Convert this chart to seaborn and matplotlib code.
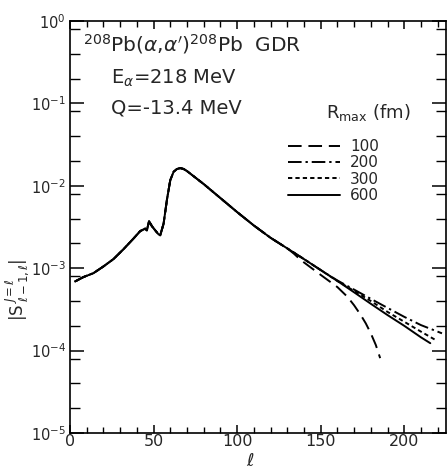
import numpy as np
import pandas as pd
import matplotlib
matplotlib.use("Agg")
import matplotlib.pyplot as plt
import seaborn as sns
from matplotlib.ticker import LogLocator, MultipleLocator, NullFormatter

# common part of the curve (all R_max identical up to l ~ 130)
l_common = [3, 8, 14, 20, 26, 32, 38, 42, 45, 46, 47.3, 49, 51, 53, 54, 56, 58, 60,
            62, 64, 66, 68, 70, 80, 90, 100, 110, 120, 130]
s_common = [6.9e-4, 7.8e-4, 8.7e-4, 1.05e-3, 1.29e-3, 1.70e-3, 2.29e-3, 2.82e-3,
            3.02e-3, 2.88e-3, 3.72e-3, 3.24e-3, 2.88e-3, 2.57e-3, 2.51e-3, 3.47e-3,
            6.76e-3, 1.17e-2, 1.48e-2, 1.60e-2, 1.64e-2, 1.60e-2, 1.51e-2, 1.05e-2,
            7.1e-3, 4.8e-3, 3.3e-3, 2.34e-3, 1.74e-3]

# tails for each R_max
l_600 = [140, 150, 160, 170, 180, 190, 200, 210, 215.6]
s_600 = [1.29e-3, 9.5e-4, 7.0e-4, 5.1e-4, 3.7e-4, 2.7e-4, 2.0e-4, 1.45e-4, 1.23e-4]
l_300 = [140, 150, 160, 170, 180, 190, 200, 210, 218.6]
s_300 = [1.29e-3, 9.5e-4, 7.0e-4, 5.3e-4, 4.0e-4, 2.95e-4, 2.24e-4, 1.70e-4, 1.35e-4]
l_200 = [140, 150, 160, 170, 180, 190, 200, 210, 222.6]
s_200 = [1.29e-3, 9.5e-4, 7.1e-4, 5.5e-4, 4.25e-4, 3.3e-4, 2.57e-4, 2.04e-4, 1.62e-4]
l_100 = [134, 138, 150, 160, 166, 170, 174, 177, 180, 183, 185.6]
s_100 = [1.50e-3, 1.26e-3, 8.3e-4, 5.9e-4, 4.5e-4, 3.55e-4, 2.7e-4, 2.14e-4, 1.62e-4, 1.17e-4, 8.1e-5]

labels = ["100", "200", "300", "600"]
tails = {"100": (l_100, s_100), "200": (l_200, s_200),
         "300": (l_300, s_300), "600": (l_600, s_600)}

rows = []
for lab in labels:
    lt, st = tails[lab]
    for l, s in zip(l_common + lt, s_common + st):
        rows.append({"l": l, "S": s, "Rmax": lab})
df = pd.DataFrame(rows)

sns.set_style("ticks")
plt.rcParams['font.family'] = ['DejaVu Sans']
plt.rcParams['mathtext.fontset'] = 'dejavusans'

fig = plt.figure(figsize=(4.47, 4.71), dpi=100)
ax = fig.add_axes([70/447, 38/471, 376/447, 412/471])

styles = {"100": (0, (7, 3.5)), "200": (0, (7, 2, 1.2, 2)),
          "300": (0, (2.2, 1.6)), "600": "-"}
for lab in labels:
    sub = df[df.Rmax == lab]
    sns.lineplot(data=sub, x="l", y="S", ax=ax, color="black", lw=1.4,
                 linestyle=styles[lab], label=lab, sort=False, estimator=None)

ax.set_yscale("log")
ax.set_xlim(0, 225)
ax.set_ylim(1e-5, 1)
ax.xaxis.set_major_locator(MultipleLocator(50))
ax.xaxis.set_minor_locator(MultipleLocator(10))
ax.yaxis.set_major_locator(LogLocator(base=10, numticks=10))
ax.yaxis.set_minor_locator(LogLocator(base=10, subs=[2, 4, 8], numticks=10))
ax.yaxis.set_minor_formatter(NullFormatter())
ax.tick_params(which="both", direction="in", top=True, right=True, color="black")
ax.tick_params(axis="y", which="major", length=10, width=1.1, labelsize=10.5, pad=3)
ax.tick_params(axis="y", which="minor", length=7, width=1.0)
ax.tick_params(axis="x", which="major", length=6, width=1.1, labelsize=11.5, pad=1)
ax.tick_params(axis="x", which="minor", length=4, width=1.0)
for sp in ax.spines.values():
    sp.set_linewidth(1.2)
    sp.set_color("black")

ax.set_xlabel(r"$\ell$", fontsize=13)
ax.xaxis.set_label_coords(0.479, -0.045)
ax.set_ylabel(r"$|\mathrm{S}\,^{J=\ell}_{\ell-1,\ell}|$", fontsize=12)
ax.yaxis.set_label_coords(-0.105, 0.347)

ax.text(0.035, 0.945, r"$^{208}$Pb($\alpha$,$\alpha'$)$^{208}$Pb  GDR", transform=ax.transAxes,
        fontsize=14.5, va="center", ha="left")
ax.text(0.11, 0.862, r"E$_{\alpha}$=218 MeV", transform=ax.transAxes,
        fontsize=14, va="center", ha="left")
ax.text(0.11, 0.79, r"Q=-13.4 MeV", transform=ax.transAxes,
        fontsize=14, va="center", ha="left")
ax.text(0.681, 0.779, r"R$_{\mathrm{max}}$ (fm)", transform=ax.transAxes,
        fontsize=13, va="center", ha="left")

leg = ax.legend(frameon=False, loc="upper left",
                bbox_to_anchor=(0.58, 0.713), fontsize=11,
                handlelength=3.4, handletextpad=0.65, labelspacing=0.08,
                borderaxespad=0.0, borderpad=0.0)

fig.savefig("out.png", dpi=100)
